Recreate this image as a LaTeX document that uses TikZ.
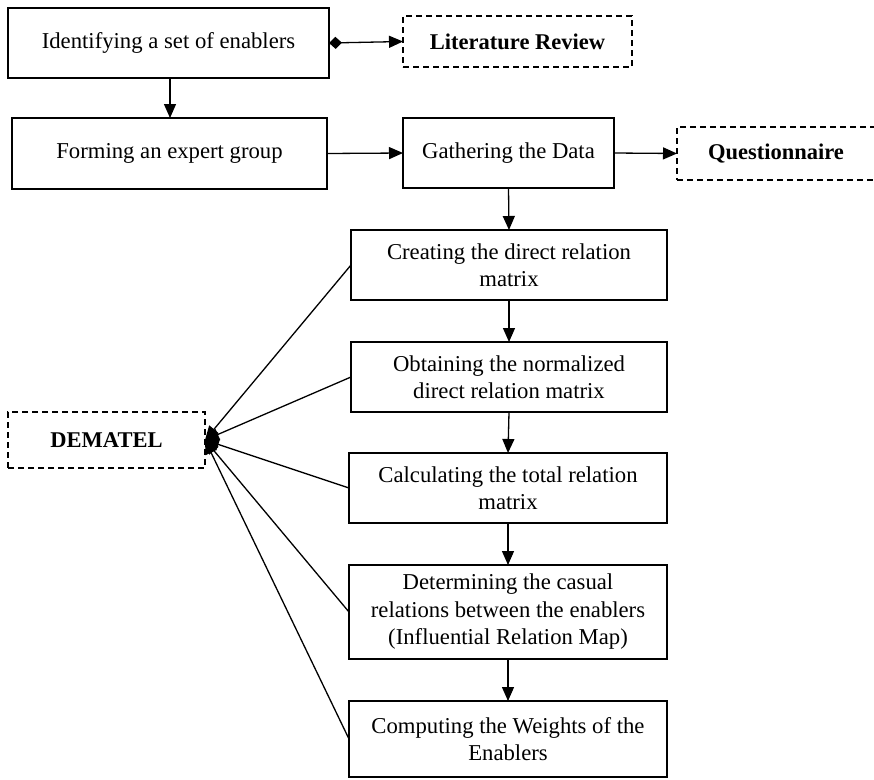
\documentclass[tikz,border=0pt]{standalone}
\usepackage{fontspec}
\setmainfont{Liberation Serif}
\usetikzlibrary{arrows.meta}
\begin{document}
\begin{tikzpicture}[x=1pt,y=-1pt,
 box/.style={draw, line width=1.4pt, inner sep=0pt, outer sep=0pt, align=center, font=\fontsize{22.7}{27.5}\selectfont},
 dbox/.style={draw, dash pattern=on 6pt off 4pt, line width=1.6pt, inner sep=0pt, outer sep=0pt, font=\fontsize{22.5}{27}\selectfont\bfseries},
 arr/.style={-{Triangle[length=14pt,width=12pt]}, line width=1.3pt},
]
\useasboundingbox (0,0) rectangle (874,779);

% left column
\node[box, minimum width=321pt, minimum height=70pt] (b1) at (168.5,43) {Identifying a set of enablers};
\node[box, minimum width=315pt, minimum height=71pt] (b2) at (169.5,153.5) {Forming an expert group};

% dashed sources
\node[dbox, minimum width=229pt, minimum height=51pt] (lit) at (517.5,41.5) {Literature Review};
\node[dbox, minimum width=198pt, minimum height=53pt] (quest) at (776,153.5) {Questionnaire};
\node[dbox, minimum width=197pt, minimum height=56pt] (dem) at (106.5,440) {DEMATEL};

% middle
\node[box, minimum width=211pt, minimum height=70pt] (gath) at (508.5,153) {Gathering the Data};

% chain
\node[box, minimum width=316pt, minimum height=70pt] (c1) at (509,265) {Creating the direct relation\\matrix};
\node[box, minimum width=316pt, minimum height=70pt] (c2) at (509,377) {Obtaining the normalized\\direct relation matrix};
\node[box, minimum width=318pt, minimum height=70pt] (c3) at (508,488) {Calculating the total relation\\matrix};
\node[box, minimum width=318pt, minimum height=94pt] (c4) at (508,612) {Determining the casual\\relations between the enablers\\(Influential Relation Map)};
\node[box, minimum width=318pt, minimum height=76pt] (c5) at (508,739) {Computing the Weights of the\\Enablers};

% connectors
\draw[{Diamond[length=13pt,width=12pt]}-{Triangle[length=14pt,width=12pt]}, line width=1.3pt] (b1.east) -- (lit.west);
\draw[arr] (b1.south -| 170,0) -- (b2.north -| 170,0);
\draw[arr] (b2.east) -- (gath.west);
\draw[arr] (gath.east) -- (quest.west);
\draw[arr] (gath.south) -- (c1.north);
\draw[arr] (c1.south) -- (c2.north);
\draw[arr] (c2.south) -- (c3.north);
\draw[arr] (c3.south) -- (c4.north);
\draw[arr] (c4.south) -- (c5.north);

% to DEMATEL
\foreach \n in {c1,c2,c3,c4,c5}
  \draw[arr] (\n.west) -- (dem.east);
\end{tikzpicture}
\end{document}
